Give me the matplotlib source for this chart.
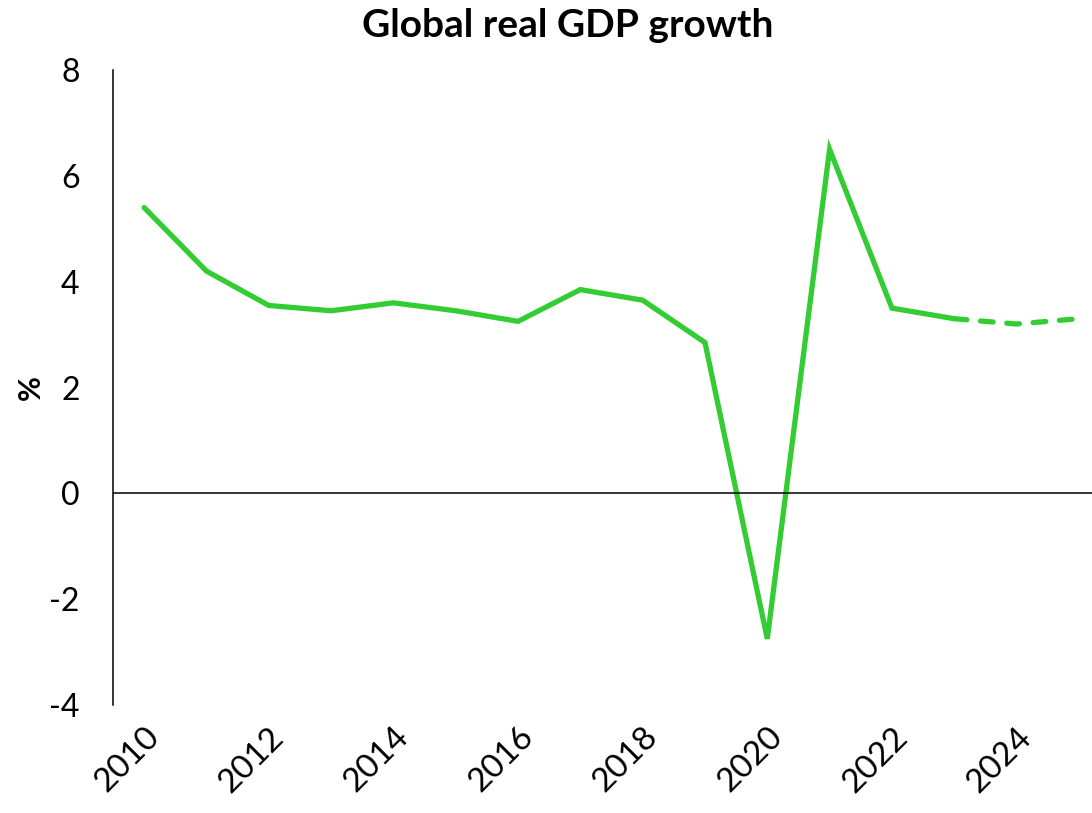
import matplotlib
matplotlib.use("Agg")
import matplotlib.pyplot as plt

plt.rcParams['font.family'] = ['Lato', 'DejaVu Sans']

# Annual global real GDP growth, % (2023 onwards are projections)
years = [2010, 2011, 2012, 2013, 2014, 2015, 2016, 2017, 2018,
         2019, 2020, 2021, 2022, 2023, 2024, 2025]
growth = [5.4, 4.2, 3.55, 3.45, 3.6, 3.45, 3.25, 3.85, 3.65,
          2.85, -2.75, 6.5, 3.5, 3.3, 3.2, 3.3]
forecast_start = 2023

tick_years = [2010, 2012, 2014, 2016, 2018, 2020, 2022, 2024]
y_ticks = [-4, -2, 0, 2, 4, 6, 8]

green = '#33CC33'

fig = plt.figure(figsize=(10.92, 8.13), dpi=100)
# plot area runs a little past the right edge of the canvas
ax = fig.add_axes([113 / 1092, 108 / 813, 997 / 1092, 635 / 813])

# solid line for actuals, dashed for projections
i = years.index(forecast_start)
ax.plot(years[:i + 1], growth[:i + 1], color=green, lw=3.8,
        solid_capstyle='round', solid_joinstyle='miter')
ax.plot(years[i:], growth[i:], color=green, lw=3.8,
        linestyle=(0, (2.4, 2.6)), dash_capstyle='round')

ax.axhline(0, color='black', lw=1.1)

ax.set_xlim(2009.5, 2025.5)
ax.set_ylim(-4, 8)
ax.set_yticks(y_ticks)
ax.set_yticklabels([str(v) for v in y_ticks], fontsize=23)
ax.set_xticks(tick_years)
ax.set_xticklabels([str(v) for v in tick_years], fontsize=24,
                   rotation=45, ha='right', va='top', rotation_mode='anchor')
ax.tick_params(axis='y', length=0, pad=24)
ax.tick_params(axis='x', length=0, pad=12)

for side in ['top', 'right', 'bottom']:
    ax.spines[side].set_visible(False)
ax.spines['left'].set_linewidth(1.1)

ax.set_ylabel('%', fontsize=22, fontweight='bold', labelpad=3)
fig.text(0.52, 0.969, 'Global real GDP growth', ha='center', va='center',
         fontsize=28, fontweight='bold')

fig.savefig('out.png', dpi=100)
